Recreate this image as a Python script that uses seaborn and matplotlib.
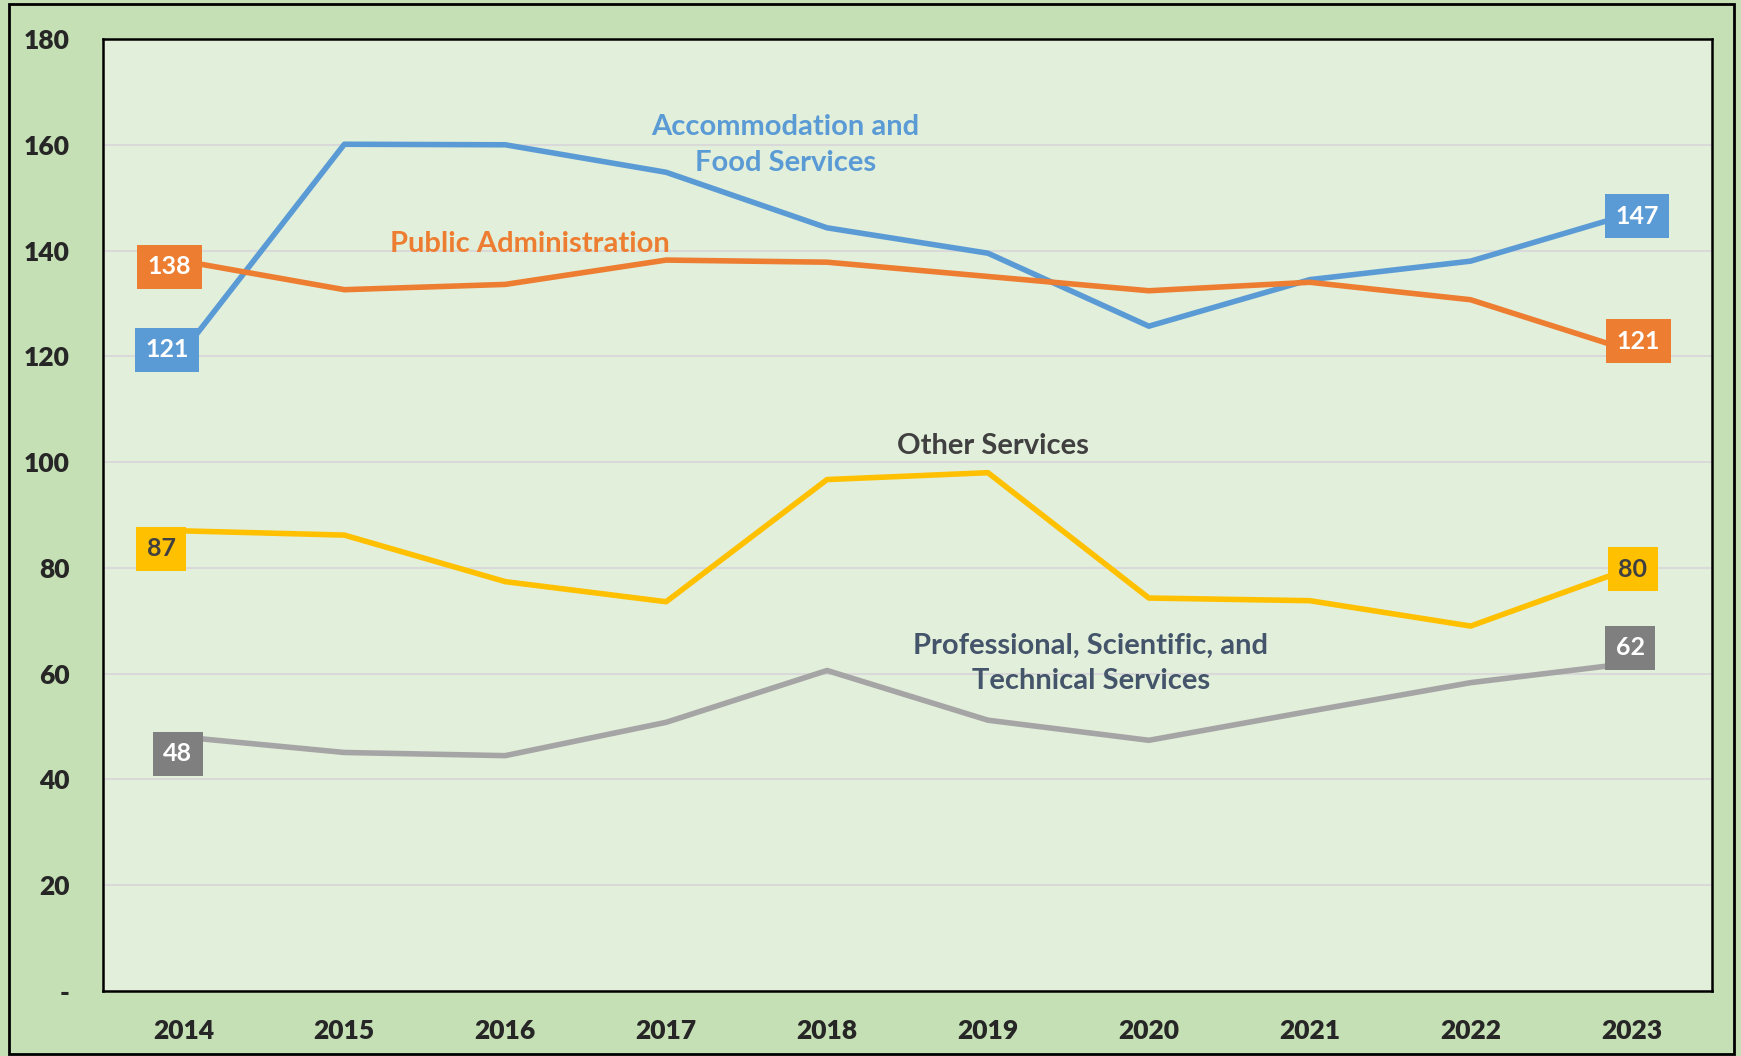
import pandas as pd
import numpy as np
import matplotlib.pyplot as plt
import seaborn as sns
from matplotlib.patches import Rectangle

# ---------------------------
# Datos
# ---------------------------
years = [2014, 2015, 2016, 2017, 2018, 2019, 2020, 2021, 2022, 2023]

accommodation = [121, 160.1, 160.0, 154.8, 144.3, 139.5, 125.7, 134.5, 138.0, 147]
public_admin = [138, 132.6, 133.6, 138.2, 137.8, 135.1, 132.4, 134.0, 130.7, 121]
other_services = [87, 86.2, 77.4, 73.6, 96.7, 98.0, 74.3, 73.8, 69.0, 80]
professional = [48, 45.1, 44.5, 50.8, 60.6, 51.2, 47.4, 52.9, 58.3, 62]

series_names = ['Accommodation and\nFood Services', 'Public Administration',
                'Other Services', 'Professional, Scientific, and\nTechnical Services']
series_values = [accommodation, public_admin, other_services, professional]

line_colors = ['#5B9BD5', '#ED7D31', '#FFC000', '#A5A5A5']
box_colors = ['#5B9BD5', '#ED7D31', '#FFC000', '#7F7F7F']
box_text_colors = ['white', 'white', '#404040', 'white']
name_colors = ['#5B9BD5', '#ED7D31', '#404040', '#44546A']

y_ticks = [0, 20, 40, 60, 80, 100, 120, 140, 160, 180]
y_tick_labels = ['-', '20', '40', '60', '80', '100', '120', '140', '160', '180']

# tabla larga para seaborn
rows = []
for name, vals in zip(series_names, series_values):
    for i, v in enumerate(vals):
        rows.append({'pos': i, 'year': years[i], 'value': v, 'series': name})
df = pd.DataFrame(rows)

# ---------------------------
# Grafico
# ---------------------------
sns.set_style('white')
plt.rcParams['font.family'] = ['Lato', 'DejaVu Sans']

fig, ax = plt.subplots(figsize=(17.41, 10.56), dpi=100)
fig.patch.set_facecolor('#C5E0B4')
ax.set_facecolor('#E2EFDA')
fig.subplots_adjust(left=103 / 1741, right=1712 / 1741, top=1 - 39 / 1056, bottom=1 - 991 / 1056)

sns.lineplot(data=df, x='pos', y='value', hue='series', palette=dict(zip(series_names, line_colors)),
             linewidth=4, legend=False, ax=ax, zorder=3)

ax.set_xlim(-0.5, len(years) - 0.5)
ax.set_ylim(0, 180)
ax.set_xticks(range(len(years)))
ax.set_xticklabels([str(y) for y in years], fontsize=19, fontweight='heavy')
ax.set_yticks(y_ticks)
ax.set_yticklabels(y_tick_labels, fontsize=19, fontweight='heavy')
ax.tick_params(axis='x', length=0, pad=20)
ax.tick_params(axis='y', length=0, pad=24)
ax.set_xlabel('')
ax.set_ylabel('')
ax.grid(axis='y', color='#D9D9D9', linewidth=1.5, zorder=0)
ax.set_axisbelow(True)
for sp in ax.spines.values():
    sp.set_visible(True)
    sp.set_color('black')
    sp.set_linewidth(1.8)

# etiquetas de inicio y fin
start_offsets = [(-12, 1), (-10, -4), (-16, -13), (-4, -12)]
end_offsets = [(4, -2), (5, 7), (1, -1), (-1, 11)]
for k, vals in enumerate(series_values):
    for idx, off in [(0, start_offsets[k]), (len(years) - 1, end_offsets[k])]:
        ax.annotate(f'{vals[idx]:.0f}', xy=(idx, vals[idx]), xytext=off, textcoords='offset points',
                    ha='center', va='center', fontsize=18, fontweight='bold', color=box_text_colors[k],
                    bbox=dict(boxstyle='square,pad=0.42', facecolor=box_colors[k], edgecolor='none'),
                    zorder=5)

# nombres de las series
name_pos = [(3.74, 160), (2.15, 141.2), (5.03, 103), (5.64, 61.9)]
for k, name in enumerate(series_names):
    ax.text(name_pos[k][0], name_pos[k][1], name, ha='center', va='center', fontsize=21,
            fontweight='bold', color=name_colors[k], linespacing=1.45, zorder=4)

# borde de la figura
fig.patches.append(Rectangle((0.005, 0.002), 0.991, 0.994, transform=fig.transFigure,
                             fill=False, edgecolor='black', linewidth=2))

plt.savefig('out.png', dpi=100, facecolor=fig.get_facecolor())
